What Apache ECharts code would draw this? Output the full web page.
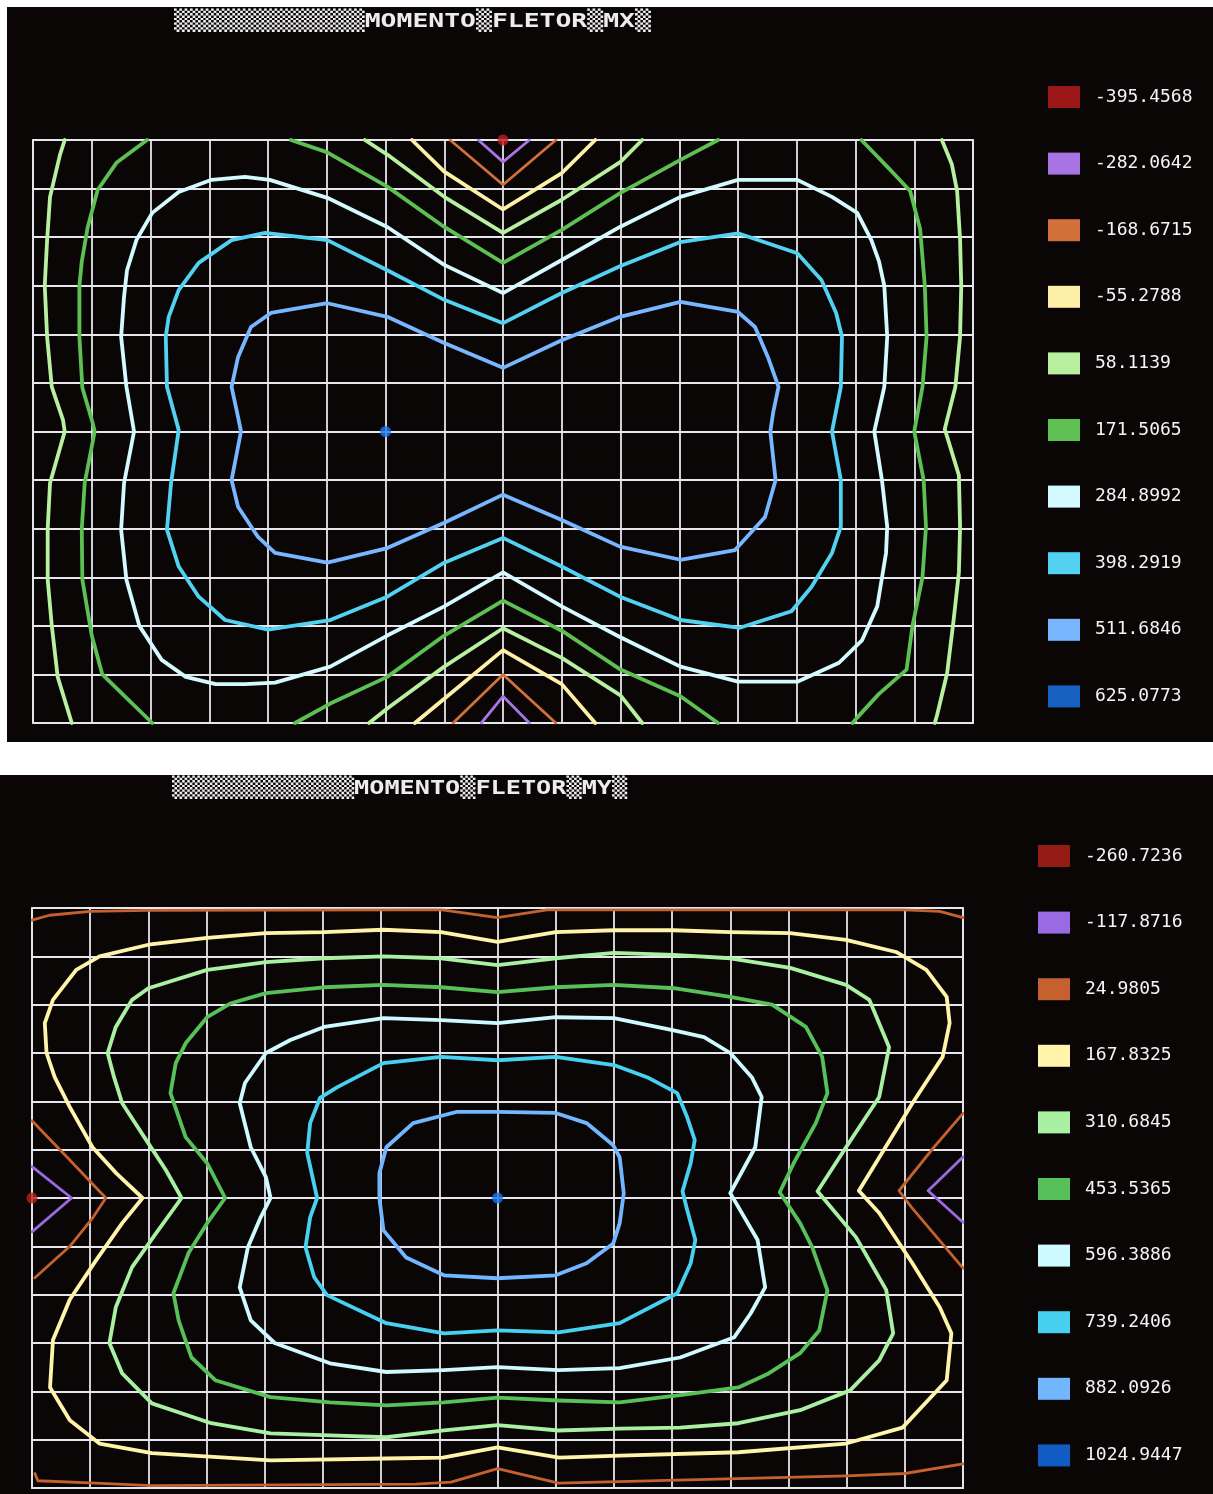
<!DOCTYPE html>
<html>
<head>
<meta charset="utf-8">
<script src="https://cdn.jsdelivr.net/npm/echarts@6/dist/echarts.min.js"></script>
<style>
  html, body { margin: 0; padding: 0; background: #ffffff; }
  #mx { position: absolute; left: 7px; top: 7px; width: 1206px; height: 735px; background: #0a0606; }
  #my { position: absolute; left: 0px; top: 775px; width: 1213px; height: 719px; background: #0a0606; }
</style>
</head>
<body>
<div id="mx"></div>
<div id="my"></div>
<script>
// ---------- Momento fletor MX ----------
const mxTitle = '▒▒▒▒▒▒▒▒▒▒▒▒MOMENTO▒FLETOR▒MX▒';
const mxLevels = ['-395.4568', '-282.0642', '-168.6715', '-55.2788', '58.1139',
                  '171.5065', '284.8992', '398.2919', '511.6846', '625.0773'];
const mxColors = ['#c01c1c', '#a874e4', '#d2703c', '#fff0a8', '#b8f0a0',
                  '#5ebf52', '#d4faff', '#52d2f0', '#78b6ff', '#1a78f0'];
const mxMinPoint = [[8, 0]];
const mxMaxPoint = [[6, 6]];
// contour polylines, in grid cells (x 0..16, y 0..12 from top)
const mxPurple = [
  [[7.58, 0], [8, 0.45], [8.45, 0]],
  [[7.63, 12], [8, 11.45], [8.45, 12]]
];
const mxOrange = [
  [[7.1, 0], [8, 0.92], [8.9, 0]],
  [[7.15, 12], [8, 11.0], [8.9, 12]]
];
const mxYellow = [
  [[6.45, 0], [7.0, 0.65], [8, 1.43], [9.0, 0.68], [9.57, 0]],
  [[6.5, 12], [7.0, 11.5], [8, 10.5], [9.0, 11.2], [9.57, 12]]
];
const mxLightGreen = [
  [[0.54, 0], [0.46, 0.3], [0.29, 1.17], [0.24, 2.06], [0.2, 3.0], [0.24, 4.05], [0.32, 5.08],
   [0.51, 5.76], [0.54, 6.0], [0.29, 7.06], [0.25, 8.0], [0.25, 9.05], [0.32, 10.0], [0.42, 11.05], [0.66, 12]],
  [[15.47, 0], [15.64, 0.5], [15.73, 1.05], [15.78, 2.05], [15.8, 3.0], [15.78, 4.05], [15.7, 5.08],
   [15.52, 5.95], [15.76, 6.9], [15.78, 7.96], [15.76, 8.9], [15.67, 9.88], [15.56, 10.97], [15.39, 11.83], [15.35, 12]],
  [[5.65, 0], [6.03, 0.3], [7.0, 1.17], [8, 1.91], [9.0, 1.23], [10.0, 0.45], [10.37, 0]],
  [[5.72, 12], [6.03, 11.7], [7.0, 10.84], [8, 10.05], [9.0, 10.66], [10.0, 11.43], [10.37, 12]]
];
const mxGreen = [
  [[1.94, 0], [1.42, 0.47], [1.1, 1.03], [0.93, 1.8], [0.83, 2.5], [0.79, 3.0], [0.79, 4.05], [0.84, 5.1],
   [1.01, 5.8], [1.05, 6.0], [0.88, 7.06], [0.83, 8.0], [0.84, 9.05], [1.0, 10.2], [1.18, 11.0], [1.52, 11.4], [2.03, 12]],
  [[14.1, 0], [14.58, 0.6], [14.93, 1.05], [15.1, 1.83], [15.18, 3.0], [15.21, 4.05], [15.14, 5.08], [15.0, 6.0],
   [15.16, 7.0], [15.2, 7.96], [15.14, 9.0], [14.97, 10.0], [14.87, 10.9], [14.4, 11.4], [14.02, 11.9], [13.95, 12]],
  [[4.39, 0], [5.0, 0.25], [6.03, 0.96], [7.0, 1.79], [8, 2.53], [9.0, 1.85], [10.0, 1.09], [11.02, 0.41], [11.66, 0]],
  [[4.46, 12], [5.06, 11.6], [6.03, 11.05], [7.0, 10.2], [8, 9.48], [9.0, 10.1], [10.0, 10.9], [11.02, 11.45], [11.66, 12]]
];
const mxPaleCyan = [
  [[8, 3.15], [7.0, 2.57], [6.03, 1.79], [5.01, 1.19], [4.03, 0.82], [3.61, 0.76], [3.04, 0.82], [2.48, 1.07],
   [2.03, 1.5], [1.76, 2.06], [1.6, 2.68], [1.55, 3.22], [1.5, 4.05], [1.59, 5.08], [1.72, 6.0], [1.55, 7.06],
   [1.5, 8.02], [1.59, 9.05], [1.81, 10.0], [2.19, 10.7], [2.6, 11.05], [3.11, 11.2], [3.61, 11.2], [4.12, 11.17],
   [5.06, 10.84], [6.03, 10.2], [7.0, 9.6], [8, 8.9], [9.0, 9.6], [9.99, 10.23], [11.02, 10.84], [12.0, 11.15],
   [13.01, 11.15], [13.72, 10.76], [14.11, 10.3], [14.37, 9.6], [14.52, 8.5], [14.54, 7.96], [14.45, 7.0],
   [14.32, 6.0], [14.49, 5.08], [14.54, 4.05], [14.49, 3.0], [14.4, 2.5], [14.27, 2.06], [14.03, 1.5],
   [13.6, 1.17], [13.01, 0.82], [12.51, 0.82], [12.0, 0.82], [11.02, 1.17], [9.99, 1.79], [9.0, 2.47], [8, 3.15]]
];
const mxCyan = [
  [[8, 3.77], [7.0, 3.29], [6.03, 2.68], [5.01, 2.06], [3.95, 1.91], [3.38, 2.06], [2.82, 2.53], [2.48, 3.09],
   [2.31, 3.64], [2.26, 4.05], [2.28, 5.08], [2.48, 5.97], [2.35, 7.06], [2.28, 8.02], [2.48, 8.78], [2.82, 9.4],
   [3.27, 9.88], [4.0, 10.08], [5.06, 9.88], [6.03, 9.4], [7.0, 8.7], [8, 8.19], [9.0, 8.78], [9.99, 9.4],
   [11.02, 9.88], [12.03, 10.04], [12.91, 9.7], [13.25, 9.2], [13.6, 8.5], [13.75, 7.96], [13.75, 7.0],
   [13.6, 6.0], [13.75, 5.08], [13.77, 4.05], [13.67, 3.56], [13.42, 2.88], [13.01, 2.33], [12.0, 1.92],
   [11.02, 2.1], [9.99, 2.6], [9.0, 3.15], [8, 3.77]]
];
const mxBlue = [
  [[8, 4.69], [7.0, 4.18], [6.03, 3.64], [5.01, 3.36], [4.05, 3.56], [3.71, 3.85], [3.49, 4.47], [3.38, 5.08],
   [3.49, 5.7], [3.54, 6.0], [3.38, 7.0], [3.49, 7.55], [3.83, 8.17], [4.12, 8.5], [5.01, 8.7], [6.03, 8.4],
   [7.0, 7.88], [8, 7.3], [9.0, 7.82], [9.99, 8.37], [11.02, 8.64], [11.95, 8.44], [12.46, 7.76], [12.64, 7.0],
   [12.55, 6.0], [12.6, 5.6], [12.69, 5.08], [12.51, 4.47], [12.29, 3.85], [12.0, 3.54], [11.02, 3.33],
   [9.99, 3.64], [9.0, 4.12], [8, 4.69]]
];
const mxPaths = [null, mxPurple, mxOrange, mxYellow, mxLightGreen, mxGreen, mxPaleCyan, mxCyan, mxBlue, null];

// ---------- Momento fletor MY ----------
const myTitle = '▒▒▒▒▒▒▒▒▒▒▒▒MOMENTO▒FLETOR▒MY▒';
const myLevels = ['-260.7236', '-117.8716', '24.9805', '167.8325', '310.6845',
                  '453.5365', '596.3886', '739.2406', '882.0926', '1024.9447'];
const myColors = ['#b8201c', '#9a6ae2', '#c4612f', '#fff4aa', '#aaf0a2',
                  '#58c058', '#cef9ff', '#48d0f0', '#72b6ff', '#1272f2'];
const myMinPoint = [[0, 6]];
const myMaxPoint = [[8, 6]];
const myPurple = [
  [[0, 5.35], [0.68, 6], [0, 6.7]],
  [[16, 5.15], [15.4, 5.85], [16, 6.5]]
];
const myOrange = [
  [[0, 0.25], [0.3, 0.15], [1, 0.07], [2, 0.05], [6.5, 0.04], [7.05, 0.04], [8, 0.2], [8.85, 0.04], [15, 0.04], [15.6, 0.07], [16, 0.2]],
  [[0.05, 11.7], [0.1, 11.85], [1.1, 11.9], [2.05, 11.95], [6.6, 11.92], [7.2, 11.88], [8, 11.6], [9.05, 11.9], [14, 11.75], [15, 11.7], [16, 11.5]],
  [[0, 4.4], [0.6, 5.15], [1.27, 6], [1.05, 6.4], [0.65, 7], [0.05, 7.65]],
  [[16, 4.25], [15.5, 4.95], [14.9, 5.85], [15.12, 6.2], [16, 7.45]]
];
const myYellow = [
  [[8, 0.7], [7.03, 0.5], [6.04, 0.45], [5.02, 0.5], [4.02, 0.52], [3.01, 0.62], [2.0, 0.76], [1.16, 1.0],
   [0.76, 1.28], [0.36, 1.9], [0.22, 2.38], [0.25, 3.0], [0.39, 3.5], [0.65, 4.12], [1.04, 4.95], [1.45, 5.49],
   [1.9, 6.0], [1.55, 6.52], [1.1, 7.29], [0.65, 8.1], [0.36, 8.94], [0.31, 9.92], [0.65, 10.6], [1.16, 11.08],
   [2.06, 11.28], [4.1, 11.43], [6.09, 11.39], [7.06, 11.37], [8, 11.16], [9.06, 11.37], [10.1, 11.33],
   [12.14, 11.26], [13.99, 11.08], [14.96, 10.75], [15.72, 9.77], [15.8, 8.8], [15.6, 8.26], [15.13, 7.35],
   [14.56, 6.31], [14.21, 5.85], [14.56, 5.16], [15.13, 4.04], [15.65, 3.08], [15.77, 2.38], [15.72, 1.84],
   [15.37, 1.28], [14.85, 0.91], [13.99, 0.66], [13.03, 0.52], [12.0, 0.5], [11.03, 0.46], [10.0, 0.46],
   [9.0, 0.5], [8, 0.7]]
];
const myLightGreen = [
  [[8, 1.18], [7.03, 1.04], [6.04, 1.0], [5.02, 1.04], [4.02, 1.12], [3.01, 1.28], [2.0, 1.66], [1.72, 1.9],
   [1.44, 2.46], [1.3, 3.0], [1.41, 3.5], [1.55, 4.04], [2.0, 4.87], [2.3, 5.42], [2.57, 6.0], [2.13, 6.73],
   [1.72, 7.43], [1.44, 8.26], [1.33, 9.0], [1.55, 9.63], [2.06, 10.25], [3.08, 10.66], [4.1, 10.87],
   [5.12, 10.91], [6.09, 10.95], [7.08, 10.81], [8, 10.7], [9.05, 10.81], [10.1, 10.77], [11.14, 10.75],
   [12.14, 10.66], [13.2, 10.39], [14.06, 9.98], [14.56, 9.36], [14.8, 8.8], [14.68, 7.9], [14.16, 6.81],
   [13.5, 5.86], [13.99, 4.95], [14.56, 3.91], [14.73, 2.88], [14.39, 1.9], [13.99, 1.59], [13.03, 1.24],
   [12.0, 1.04], [11.03, 0.97], [10.0, 0.93], [9.0, 1.04], [8, 1.18]]
];
const myGreen = [
  [[8, 1.74], [7.03, 1.64], [6.04, 1.59], [5.02, 1.64], [4.02, 1.76], [3.42, 1.97], [3.01, 2.26], [2.64, 2.8],
   [2.47, 3.21], [2.38, 3.83], [2.64, 4.74], [3.01, 5.28], [3.32, 6.0], [3.01, 6.52], [2.69, 7.14], [2.43, 7.97],
   [2.52, 8.53], [2.74, 9.3], [3.15, 9.77], [4.1, 10.12], [5.12, 10.23], [6.09, 10.29], [7.08, 10.23],
   [8, 10.13], [9.05, 10.19], [10.1, 10.23], [11.14, 10.08], [12.14, 9.92], [12.66, 9.63], [13.2, 9.21],
   [13.53, 8.74], [13.67, 7.91], [13.41, 7.02], [13.2, 6.52], [12.85, 5.88], [13.09, 5.28], [13.47, 4.45],
   [13.67, 3.83], [13.58, 3.08], [13.3, 2.46], [12.72, 2.0], [12.0, 1.84], [11.03, 1.66], [10.0, 1.59],
   [9.0, 1.64], [8, 1.74]]
];
const myPaleCyan = [
  [[8, 2.38], [7.03, 2.32], [6.04, 2.28], [5.02, 2.46], [4.44, 2.73], [4.02, 3.0], [3.66, 3.62], [3.57, 4.04],
   [3.76, 4.95], [4.02, 5.57], [4.1, 6.0], [3.93, 6.4], [3.71, 7.02], [3.57, 7.85], [3.76, 8.53], [4.17, 9.0],
   [5.12, 9.42], [6.09, 9.6], [7.08, 9.56], [8, 9.5], [9.05, 9.56], [10.1, 9.52], [11.14, 9.3], [12.07, 8.88],
   [12.35, 8.39], [12.6, 7.85], [12.47, 6.87], [12.0, 5.9], [12.43, 4.95], [12.54, 3.91], [12.37, 3.5],
   [12.0, 3.0], [11.55, 2.67], [11.03, 2.53], [10.0, 2.28], [9.0, 2.26], [8, 2.38]]
];
const myCyan = [
  [[8, 3.15], [7.03, 3.08], [6.04, 3.21], [5.24, 3.71], [4.95, 3.93], [4.78, 4.45], [4.73, 5.07], [4.9, 6.0],
   [4.78, 6.4], [4.7, 7.02], [4.85, 7.64], [5.07, 8.01], [6.09, 8.59], [7.08, 8.8], [8, 8.74], [9.05, 8.78],
   [10.1, 8.59], [11.09, 7.97], [11.32, 7.35], [11.4, 6.87], [11.26, 6.25], [11.18, 5.86], [11.32, 5.28],
   [11.39, 4.8], [11.26, 4.33], [11.09, 3.83], [10.57, 3.5], [10.0, 3.25], [9.0, 3.08], [8, 3.15]]
];
const myBlue = [
  [[8, 4.22], [7.29, 4.22], [6.55, 4.45], [6.09, 4.95], [5.97, 5.49], [5.97, 6.0], [6.04, 6.67], [6.43, 7.23],
   [7.08, 7.6], [8, 7.66], [9.0, 7.6], [9.53, 7.35], [9.99, 6.94], [10.1, 6.52], [10.17, 5.9], [10.1, 5.16],
   [9.99, 4.91], [9.53, 4.45], [9.0, 4.24], [8, 4.22]]
];
const myPaths = [null, myPurple, myOrange, myYellow, myLightGreen, myGreen, myPaleCyan, myCyan, myBlue, null];

// grid cells along each side
const cellsX = 16;
const cellsY = 12;

function buildSeries(levels, colors, paths, minPoint, maxPoint) {
  const series = [];
  const last = levels.length - 1;
  levels.forEach(function (level, i) {
    if (i === 0 || i === last) {
      series.push({
        type: 'scatter', name: level, data: i === 0 ? minPoint : maxPoint,
        symbolSize: 11, z: 5, itemStyle: { color: colors[i] }
      });
      return;
    }
    paths[i].forEach(function (path) {
      series.push({
        type: 'line', name: level, data: path, showSymbol: false, symbol: 'none',
        z: 3, lineStyle: { color: colors[i], width: i <= 2 ? 2.8 : 3.8, join: 'round', cap: 'round' },
        itemStyle: { color: colors[i] }
      });
    });
  });
  return series;
}

function buildOption(cfg) {
  const axisCommon = {
    type: 'value', interval: 1, min: 0,
    axisLabel: { show: false }, axisTick: { show: false },
    axisLine: { show: false },
    splitLine: { show: true, lineStyle: { color: '#e6e6ee', width: 1.8 } }
  };
  return {
    backgroundColor: '#0a0606',
    animation: false,
    graphic: [{
      type: 'text', x: cfg.titleX, y: cfg.titleY, scaleX: cfg.titleScale,
      style: {
        text: cfg.title, fill: '#ececec',
        font: 'bold 20px "DejaVu Sans Mono"', textVerticalAlign: 'middle'
      }
    }],
    grid: {
      left: cfg.grid[0], top: cfg.grid[1], width: cfg.grid[2], height: cfg.grid[3],
      show: true, borderColor: '#e6e6ee', borderWidth: 1.8, backgroundColor: 'transparent'
    },
    xAxis: Object.assign({}, axisCommon, { max: cellsX }),
    yAxis: Object.assign({}, axisCommon, { max: cellsY, inverse: true }),
    legend: {
      orient: 'vertical', left: cfg.legend[0], top: cfg.legend[1],
      data: cfg.levels, icon: 'rect', itemWidth: 32, itemHeight: 22, itemGap: 44.6,
      selectedMode: false,
      textStyle: {
        color: '#f4f4f4', fontFamily: 'DejaVu Sans Mono', fontSize: 18,
        padding: [0, 0, 0, 10]
      }
    },
    series: buildSeries(cfg.levels, cfg.colors, cfg.paths, cfg.minPoint, cfg.maxPoint)
  };
}

const chartMx = echarts.init(document.getElementById('mx'));
chartMx.setOption(buildOption({
  title: mxTitle, titleX: 167, titleY: 15, titleScale: 1.32,
  grid: [26, 133, 940, 583], legend: [1036, 74],
  levels: mxLevels, colors: mxColors, paths: mxPaths,
  minPoint: mxMinPoint, maxPoint: mxMaxPoint
}));

const chartMy = echarts.init(document.getElementById('my'));
chartMy.setOption(buildOption({
  title: myTitle, titleX: 172, titleY: 14, titleScale: 1.26,
  grid: [32, 133, 931, 580], legend: [1033, 65],
  levels: myLevels, colors: myColors, paths: myPaths,
  minPoint: myMinPoint, maxPoint: myMaxPoint
}));
</script>
</body>
</html>
